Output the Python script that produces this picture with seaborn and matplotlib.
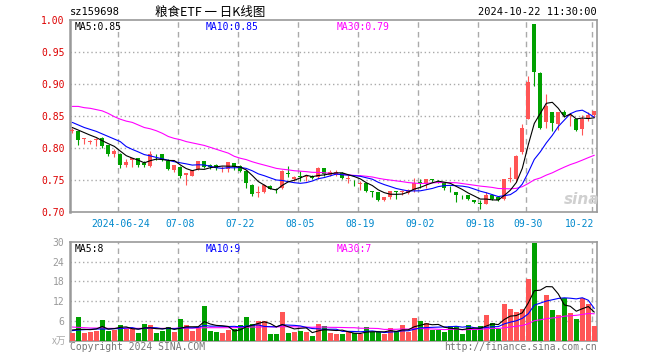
import numpy as np
import pandas as pd
import seaborn as sns
import matplotlib.pyplot as plt

# 日K数据 (2024-06-12 ~ 2024-10-22)
open_ = [0.826, 0.826, 0.814, 0.809, 0.812, 0.816, 0.804, 0.791, 0.791, 0.774,
         0.782, 0.784, 0.777, 0.772, 0.791, 0.790, 0.779, 0.765, 0.771, 0.758,
         0.757, 0.767, 0.779, 0.773, 0.773, 0.770, 0.767, 0.776, 0.772, 0.764,
         0.742, 0.729, 0.732, 0.740, 0.736, 0.737, 0.761, 0.752, 0.756, 0.754,
         0.757, 0.754, 0.768, 0.758, 0.758, 0.761, 0.752, 0.746, 0.744, 0.745,
         0.733, 0.731, 0.718, 0.724, 0.733, 0.731, 0.730, 0.735, 0.747, 0.743,
         0.751, 0.749, 0.745, 0.738, 0.731, 0.727, 0.727, 0.719, 0.714, 0.713,
         0.727, 0.723, 0.721, 0.752, 0.751, 0.793, 0.846, 0.993, 0.917, 0.841,
         0.857, 0.837, 0.856, 0.850, 0.846, 0.830, 0.846, 0.851]
close = [0.828, 0.813, 0.816, 0.811, 0.814, 0.803, 0.790, 0.795, 0.774, 0.778,
         0.784, 0.774, 0.774, 0.791, 0.790, 0.781, 0.767, 0.773, 0.757, 0.761,
         0.765, 0.779, 0.771, 0.770, 0.768, 0.771, 0.778, 0.770, 0.764, 0.745,
         0.728, 0.731, 0.742, 0.736, 0.735, 0.764, 0.759, 0.754, 0.754, 0.756,
         0.753, 0.768, 0.759, 0.763, 0.763, 0.753, 0.753, 0.745, 0.745, 0.733,
         0.731, 0.719, 0.723, 0.733, 0.732, 0.733, 0.735, 0.746, 0.746, 0.751,
         0.750, 0.748, 0.738, 0.737, 0.727, 0.726, 0.720, 0.715, 0.713, 0.727,
         0.720, 0.718, 0.752, 0.753, 0.787, 0.831, 0.903, 0.918, 0.831, 0.866,
         0.839, 0.856, 0.852, 0.852, 0.828, 0.846, 0.852, 0.858]
high = [0.832, 0.827, 0.816, 0.813, 0.815, 0.817, 0.805, 0.798, 0.792, 0.783,
        0.785, 0.785, 0.780, 0.795, 0.791, 0.790, 0.783, 0.773, 0.772, 0.761,
        0.765, 0.779, 0.780, 0.775, 0.775, 0.772, 0.778, 0.776, 0.773, 0.765,
        0.743, 0.740, 0.744, 0.742, 0.738, 0.766, 0.772, 0.757, 0.764, 0.757,
        0.758, 0.771, 0.768, 0.765, 0.765, 0.762, 0.758, 0.750, 0.749, 0.745,
        0.733, 0.731, 0.724, 0.733, 0.733, 0.734, 0.736, 0.753, 0.752, 0.752,
        0.752, 0.750, 0.745, 0.740, 0.732, 0.727, 0.727, 0.719, 0.719, 0.732,
        0.728, 0.724, 0.752, 0.771, 0.789, 0.837, 0.912, 0.994, 0.918, 0.885,
        0.857, 0.857, 0.860, 0.854, 0.846, 0.852, 0.857, 0.858]
low = [0.824, 0.805, 0.806, 0.806, 0.803, 0.800, 0.787, 0.786, 0.769, 0.771,
       0.770, 0.770, 0.770, 0.770, 0.781, 0.780, 0.765, 0.762, 0.753, 0.742,
       0.756, 0.766, 0.769, 0.767, 0.766, 0.762, 0.763, 0.766, 0.763, 0.738,
       0.725, 0.724, 0.730, 0.736, 0.730, 0.736, 0.754, 0.748, 0.749, 0.748,
       0.752, 0.752, 0.757, 0.757, 0.757, 0.752, 0.745, 0.741, 0.735, 0.732,
       0.724, 0.717, 0.717, 0.720, 0.721, 0.726, 0.728, 0.731, 0.737, 0.737,
       0.747, 0.745, 0.734, 0.732, 0.716, 0.720, 0.718, 0.714, 0.704, 0.712,
       0.718, 0.717, 0.719, 0.747, 0.747, 0.791, 0.845, 0.897, 0.830, 0.831,
       0.827, 0.828, 0.849, 0.834, 0.826, 0.821, 0.842, 0.848]
volume = [2.4, 7.1, 2.4, 2.7, 3.0, 6.2, 3.0, 3.2, 4.7, 3.6,
          3.4, 2.4, 5.0, 4.8, 2.4, 3.0, 4.1, 2.6, 6.5, 4.7,
          3.0, 4.2, 10.4, 2.8, 2.6, 2.4, 3.2, 3.4, 4.7, 7.1,
          4.9, 5.9, 5.9, 2.0, 2.0, 8.6, 2.4, 2.6, 3.0, 2.6,
          1.4, 5.0, 4.4, 2.4, 2.0, 2.0, 2.5, 2.2, 2.0, 4.1,
          2.5, 2.5, 2.1, 3.8, 3.0, 4.7, 2.7, 6.8, 6.0, 5.3,
          3.2, 3.2, 2.6, 4.4, 4.4, 2.0, 4.7, 3.2, 4.4, 7.7,
          5.3, 3.6, 11.0, 9.5, 8.6, 9.5, 18.6, 29.6, 10.4, 14.0,
          9.2, 7.7, 12.9, 8.3, 6.5, 13.0, 11.0, 4.4]

# 图中窗口起点之前的均线读数 (窗口内数据不足时)
ma5_head = [0.832, 0.828, 0.824, 0.820]
ma10_head = [0.840, 0.836, 0.832, 0.829, 0.826, 0.822, 0.818, 0.814, 0.810]
ma30_head = [0.865, 0.865, 0.863, 0.862, 0.860, 0.858, 0.854, 0.849, 0.845, 0.842,
             0.840, 0.836, 0.832, 0.830, 0.827, 0.823, 0.818, 0.815, 0.813, 0.810,
             0.808, 0.806, 0.804, 0.801, 0.798, 0.795, 0.792, 0.787, 0.784]
vma5_head = [3.2, 3.4, 3.4, 3.3]
vma10_head = [3.0, 3.2, 3.3, 3.4, 3.5, 3.5, 3.5, 3.6, 3.6]
vma30_head = [4.1, 4.0, 3.9, 3.8, 3.8, 3.8, 3.7, 3.7, 3.7, 3.7,
              3.7, 3.7, 3.7, 3.7, 3.7, 3.7, 3.7, 3.7, 3.8, 3.8,
              3.8, 3.8, 3.9, 3.9, 3.9, 3.9, 3.9, 3.9, 4.0]

tick_idx = [8, 18, 28, 38, 48, 58, 68, 76, 87]
tick_labels = ['2024-06-24', '07-08', '07-22', '08-05', '08-19', '09-02', '09-18', '09-30', '10-22']

RED = '#ff5555'
GREEN = '#00a000'
GRID = '#aaaaaa'


def ma_line(values, n, head):
    s = pd.Series(values).rolling(n).mean()
    s.iloc[:len(head)] = head
    return s


df = pd.DataFrame({'i': np.arange(len(close)), 'open': open_, 'close': close,
                   'high': high, 'low': low, 'vol': volume})
df['up'] = np.where(df['close'] >= df['open'], 'up', 'down')
df['ma5'] = ma_line(close, 5, ma5_head)
df['ma10'] = ma_line(close, 10, ma10_head)
df['ma30'] = ma_line(close, 30, ma30_head)
df['vma5'] = ma_line(volume, 5, vma5_head)
df['vma10'] = ma_line(volume, 10, vma10_head)
df['vma30'] = ma_line(volume, 30, vma30_head)

sns.set_theme(style='white')
plt.rcParams['font.family'] = ['DejaVu Sans Mono', 'Noto Sans CJK SC']

fig = plt.figure(figsize=(6.6, 3.6), dpi=100)
ax = fig.add_axes([70 / 660, 148 / 360, 527 / 660, 192 / 360])
axv = fig.add_axes([70 / 660, 19.5 / 360, 527 / 660, 98.5 / 360])

# K线
colors = np.where(df['up'] == 'up', RED, GREEN)
ax.vlines(df['i'], df['low'], df['high'], colors=colors, lw=0.8, zorder=3)
body_lo = np.minimum(df['open'], df['close'])
body_h = np.maximum(np.abs(df['close'] - df['open']), 0.0008)
ax.bar(df['i'], body_h, bottom=body_lo, width=0.72, color=colors, lw=0, zorder=4)

sns.lineplot(data=df, x='i', y='ma30', color='#ff00ff', lw=0.8, ax=ax, zorder=5)
sns.lineplot(data=df, x='i', y='ma10', color='#0000ff', lw=0.8, ax=ax, zorder=6)
sns.lineplot(data=df, x='i', y='ma5', color='black', lw=0.8, ax=ax, zorder=7)

# 成交量
sns.barplot(data=df, x='i', y='vol', hue='up', palette={'up': RED, 'down': GREEN},
            dodge=False, native_scale=True, width=0.75, errorbar=None, saturation=1,
            legend=False, ax=axv, zorder=3, linewidth=0)
sns.lineplot(data=df, x='i', y='vma30', color='#ff00ff', lw=0.8, ax=axv, zorder=5)
sns.lineplot(data=df, x='i', y='vma10', color='#0000ff', lw=0.8, ax=axv, zorder=6)
sns.lineplot(data=df, x='i', y='vma5', color='black', lw=0.8, ax=axv, zorder=7)

for a in (ax, axv):
    a.set_xlim(-0.38, 87.45)
    a.set_xlabel('')
    a.set_ylabel('')
    for sp in a.spines.values():
        sp.set_color('#999999')
        sp.set_linewidth(1.2)
    a.spines['left'].set_linewidth(1.8)
    a.tick_params(length=0, labelsize=7)
    for t in tick_idx:
        a.axvline(t - 0.3, color=GRID, lw=1, ls=(0, (4, 3)), zorder=1)

ax.set_ylim(0.70, 1.00)
ax.set_yticks(np.arange(0.70, 1.001, 0.05))
ax.set_yticklabels([f'{v:.2f}' for v in np.arange(0.70, 1.001, 0.05)], color='#dd0000')
for v in [0.75, 0.80, 0.85, 0.90, 0.95]:
    ax.axhline(v, color=GRID, lw=1, ls=(0, (1, 2)), zorder=1)
ax.set_xticks(tick_idx)
ax.set_xticklabels(tick_labels, color='#0088cc')
ax.tick_params(axis='x', pad=5)
ax.tick_params(axis='y', pad=4)
ax.get_xticklabels()[-1].set_ha('right')

axv.set_ylim(0, 30)
axv.set_yticks([6, 12, 18, 24, 30])
axv.set_yticklabels(['6', '12', '18', '24', '30'], color='#999999')
axv.tick_params(axis='y', pad=4)
axv.set_xticks([])
for v in [6, 12, 18, 24]:
    axv.axhline(v, color=GRID, lw=1, ls=(0, (1, 2)), zorder=1)

# 文字
fig.text(70 / 660, 1 - 12 / 360, 'sz159698', fontsize=7.5, va='center', color='black')
fig.text(210 / 660, 1 - 12 / 360, '粮食ETF 一 日K线图', fontsize=9, va='center', ha='center',
         family=['Noto Sans CJK SC', 'DejaVu Sans'], color='black')
fig.text(597 / 660, 1 - 12 / 360, '2024-10-22 11:30:00', fontsize=7.5, va='center',
         ha='right', color='black')

ax.text(0.008, 0.965, 'MA5:0.85', transform=ax.transAxes, fontsize=7, color='black', va='center')
ax.text(0.257, 0.965, 'MA10:0.85', transform=ax.transAxes, fontsize=7, color='#0000ff', va='center')
ax.text(0.505, 0.965, 'MA30:0.79', transform=ax.transAxes, fontsize=7, color='#ff00ff', va='center')
axv.text(0.008, 0.93, 'MA5:8', transform=axv.transAxes, fontsize=7, color='black', va='center')
axv.text(0.257, 0.93, 'MA10:9', transform=axv.transAxes, fontsize=7, color='#0000ff', va='center')
axv.text(0.505, 0.93, 'MA30:7', transform=axv.transAxes, fontsize=7, color='#ff00ff', va='center')

fig.text(66 / 660, 1 - 341 / 360, 'x万', fontsize=7, ha='right', va='center', color='#aaaaaa',
         family=['Noto Sans CJK SC', 'DejaVu Sans'])
fig.text(70 / 660, 1 - 347 / 360, 'Copyright 2024 SINA.COM', fontsize=7, va='center', color='#777777')
fig.text(597 / 660, 1 - 347 / 360, 'http://finance.sina.com.cn', fontsize=7, va='center',
         ha='right', color='#777777')
fig.text(582 / 660, 1 - 200 / 360, 'sina', fontsize=11, style='italic', weight='bold',
         ha='center', va='center', color='#d0d0d0', family='DejaVu Sans')

fig.savefig('out.png', dpi=100)
